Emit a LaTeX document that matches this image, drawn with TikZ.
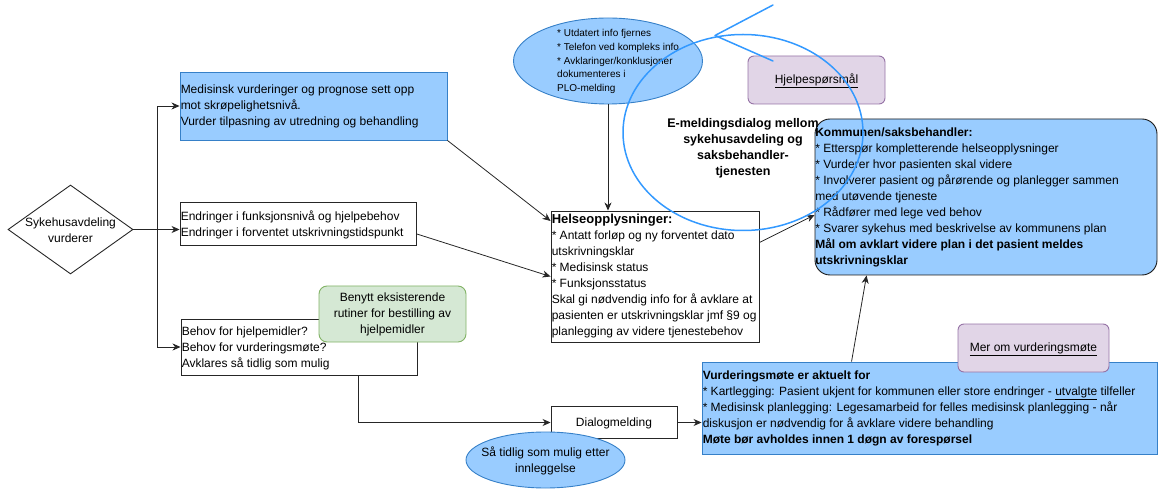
\documentclass[tikz,border=0pt]{standalone}
\usepackage{fontspec}
\setmainfont{Liberation Sans}
\usetikzlibrary{shapes.geometric,arrows.meta,calc}
\definecolor{bfill}{RGB}{153,204,255}
\definecolor{bline}{RGB}{54,128,200}
\definecolor{gfill}{RGB}{213,232,212}
\definecolor{gline}{RGB}{130,179,102}
\definecolor{pfill}{RGB}{225,213,231}
\definecolor{pline}{RGB}{150,115,166}
\definecolor{loopc}{RGB}{51,153,255}
\begin{document}
\begin{tikzpicture}[x=1pt,y=-1pt,
  plainbox/.style={draw=black!85, line width=0.9pt, rectangle, inner sep=0pt, fill=white},
  bluebox/.style={plainbox, draw=bline, fill=bfill},
  greenbox/.style={plainbox, draw=gline, fill=gfill, rounded corners=8pt},
  purplebox/.style={plainbox, draw=pline, fill=pfill, rounded corners=6pt},
  txt/.style={inner sep=1pt, align=left, anchor=west, font=\fontsize{12}{16}\selectfont},
  ctxt/.style={inner sep=0pt, align=center, font=\fontsize{12}{16}\selectfont},
  plainline/.style={draw=black!85, line width=0.8pt},
  conn/.style={plainline, -{Stealth[length=8pt,width=7pt,inset=2.5pt]}},
  loopline/.style={draw=loopc, line width=1.5pt}
]
\useasboundingbox (0,0) rectangle (1160,489);

% diamond
\node[diamond, draw=black!85, line width=0.9pt, minimum width=125pt, minimum height=89pt, inner sep=0pt] (dia) at (70.5,229.5) {};
\node[ctxt] (diat) at (70.5,230) {Sykehusavdeling\\vurderer};

% left boxes
\node[bluebox, minimum width=267pt, minimum height=68pt] (box1) at (313.5,106) {};
\node[txt] (box1t) at (box1.west) {Medisinsk vurderinger og prognose sett opp\\mot skrøpelighetsnivå.\\Vurder tilpasning av utredning og behandling};

\node[plainbox, minimum width=236pt, minimum height=43pt] (box2) at (298,223.5) {};
\node[txt] (box2t) at ($(box2.west)+(0,1)$) {Endringer i funksjonsnivå og hjelpebehov\\Endringer i forventet utskrivningstidspunkt};

\node[plainbox, minimum width=236pt, minimum height=56pt] (box3) at (299,347) {};
\node[txt] (box3t) at ($(box3.west)+(0,1)$) {Behov for hjelpemidler?\\Behov for vurderingsmøte?\\Avklares så tidlig som mulig};

% helse
\node[plainbox, minimum width=208pt, minimum height=131pt] (helse) at (655,276.5) {};
\node[txt] (helset) at (helse.west) {\textbf{\fontsize{13}{16}\selectfont Helseopplysninger:}\\* Antatt forløp og ny forventet dato\\utskrivningsklar\\* Medisinsk status\\* Funksjonsstatus\\Skal gi nødvendig info for å avklare at\\pasienten er utskrivningsklar jmf §9 og\\planlegging av videre tjenestebehov};

% top ellipse
\node[ellipse, draw=bline, fill=bfill, line width=0.9pt, minimum width=189pt, minimum height=86pt, inner sep=0pt] (topell) at (608,61) {};
\node[txt, font=\fontsize{10}{13.8}\selectfont] (topellt) at (556,61.5) {* Utdatert info fjernes\\* Telefon ved kompleks info\\* Avklaringer/konklusjoner\\dokumenteres i\\PLO-melding};

% kommunen
\node[plainbox, draw=black!90, fill=bfill, rounded corners=15pt, minimum width=342pt, minimum height=156pt] (komm) at (986,197) {};
\node[txt, inner sep=0.5pt] (kommt) at (komm.west) {\textbf{Kommunen/saksbehandler:}\\* Etterspør kompletterende helseopplysninger\\* Vurderer hvor pasienten skal videre\\* Involverer pasient og pårørende og planlegger sammen\\med utøvende tjeneste\\* Rådfører med lege ved behov\\* Svarer sykehus med beskrivelse av kommunens plan\\\textbf{Mål om avklart videre plan i det pasient meldes}\\\textbf{utskrivningsklar}};

% hjelp
\node[purplebox, minimum width=137pt, minimum height=48pt] (hjelp) at (816.5,80) {};
\node[ctxt] (hjelpt) at (816.5,81) {\underline{Hjelpespørsmål}};

% E-meldingsdialog text
\node[ctxt, font=\bfseries\fontsize{12.5}{16}\selectfont] (emd) at (743,148.5) {E-meldingsdialog mellom\\sykehusavdeling og\\saksbehandler-\\tjenesten};

% dialog
\node[plainbox, minimum width=126pt, minimum height=32pt] (dialog) at (614,422.5) {};
\node[ctxt] (dialogt) at (614,423) {Dialogmelding};

% vurd
\node[bluebox, minimum width=455pt, minimum height=92pt] (vurd) at (929.5,408) {};
\node[txt] (vurdt) at (vurd.west) {\textbf{Vurderingsmøte er aktuelt for}\\* Kartlegging: Pasient ukjent for kommunen eller store endringer - \underline{utvalgte} tilfeller\\* Medisinsk planlegging: Legesamarbeid for felles medisinsk planlegging - når\\diskusjon er nødvendig for å avklare videre behandling\\\textbf{Møte bør avholdes innen 1 døgn av forespørsel}};

% connectors
\coordinate (split) at (157,229.5);
\draw[plainline] (dia.east) -- (split);
\draw[conn] (split) |- (box1.west);
\draw[conn] (split) -- (split -| box2.west);
\draw[conn] (split) |- (box3.west);
\draw[conn] (box1.south east) -- (helse.152);
\draw[conn] (box2.-5) -- (helse.west);
\draw[conn] (topell.south) -- (topell.south |- helse.north);
\draw[conn] (helse.18) -- (komm.186);
\draw[conn] ($(box3.south east)+(-59,0)$) |- (dialog.west);
\draw[conn] (dialog.east) -- (dialog.east -| vurd.west);
\draw[conn] ($(vurd.north west)+(150,0)$) -- ($(komm.south west)+(52,0)$);

% overlays
\node[greenbox, minimum width=147pt, minimum height=56pt] (green) at (392.5,314) {};
\node[ctxt] (greent) at (392.5,314.5) {Benytt eksisterende\\rutiner for bestilling av\\hjelpemidler};

\node[purplebox, minimum width=151pt, minimum height=48pt] (mer) at (1033.5,348) {};
\node[ctxt] (mert) at (1033.5,349) {\underline{Mer om vurderingsmøte}};

\node[ellipse, draw=bline, fill=bfill, line width=0.9pt, minimum width=159pt, minimum height=56pt, inner sep=0pt] (botell) at (545.5,460) {};
\node[ctxt] (botellt) at (545.5,461) {Så tidlig som mulig etter\\innleggelse};

% hand drawn loop
\node[ellipse, loopline, minimum width=240pt, minimum height=196pt, inner sep=0pt] (loop) at (743,132.5) {};
\coordinate (looptip) at (715,35.5);
\coordinate (armA) at (773,5);
\coordinate (armB) at (773,61);
\draw[loopline, line cap=round, line join=round] (armA) -- (looptip) -- (armB);
\end{tikzpicture}
\end{document}
